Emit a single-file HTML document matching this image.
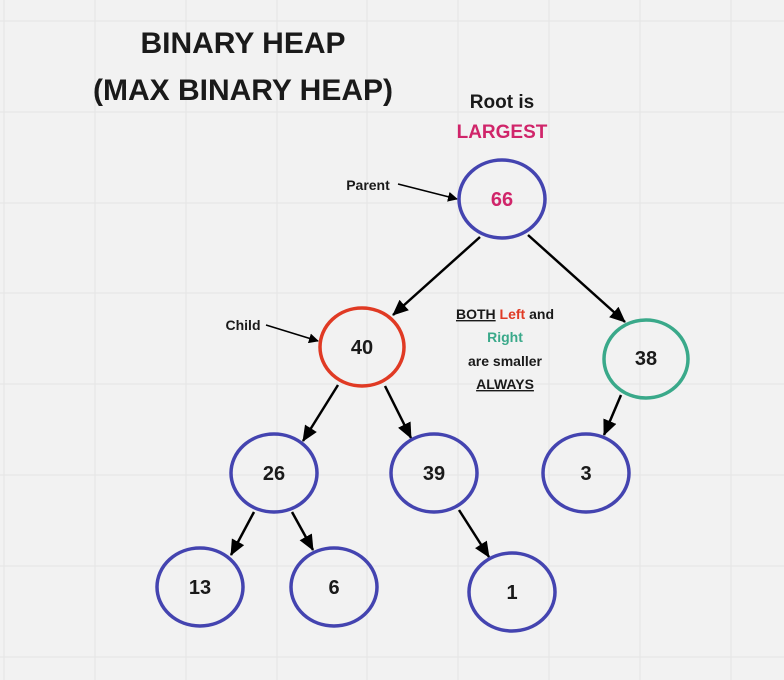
<!DOCTYPE html>
<html><head><style>
body{margin:0;width:784px;height:680px;background:#f2f2f2;overflow:hidden}
svg{display:block}
text{font-family:"Liberation Sans",sans-serif;font-weight:bold}
</style></head><body>
<svg width="784" height="680" viewBox="0 0 784 680">
<defs>
<marker id="a" markerWidth="10" markerHeight="10" refX="9" refY="5" orient="auto" markerUnits="userSpaceOnUse" viewBox="0 0 10 10">
<path d="M0,0 L10,5 L0,10 z" fill="#000"/></marker>
<marker id="b" markerWidth="16" markerHeight="14" refX="15" refY="7" orient="auto" markerUnits="userSpaceOnUse" viewBox="0 0 16 14">
<path d="M0,0 L16,7 L0,14 z" fill="#000"/></marker>
</defs>
<g stroke="#e4e4e4" stroke-width="1">
<line x1="4" y1="0" x2="4" y2="680"/><line x1="95" y1="0" x2="95" y2="680"/><line x1="186" y1="0" x2="186" y2="680"/><line x1="277" y1="0" x2="277" y2="680"/><line x1="367" y1="0" x2="367" y2="680"/><line x1="458" y1="0" x2="458" y2="680"/><line x1="549" y1="0" x2="549" y2="680"/><line x1="640" y1="0" x2="640" y2="680"/><line x1="731" y1="0" x2="731" y2="680"/>
<line x1="0" y1="21" x2="784" y2="21"/><line x1="0" y1="112" x2="784" y2="112"/><line x1="0" y1="203" x2="784" y2="203"/><line x1="0" y1="293" x2="784" y2="293"/><line x1="0" y1="384" x2="784" y2="384"/><line x1="0" y1="475" x2="784" y2="475"/><line x1="0" y1="566" x2="784" y2="566"/><line x1="0" y1="657" x2="784" y2="657"/>
</g>
<text x="243" y="53" font-size="30" fill="#1a1a1a" text-anchor="middle">BINARY HEAP</text>
<text x="243" y="100" font-size="30" fill="#1a1a1a" text-anchor="middle">(MAX BINARY HEAP)</text>
<text x="502" y="108" font-size="19" fill="#1a1a1a" text-anchor="middle">Root is</text>
<text x="502" y="138" font-size="19" fill="#d0256a" text-anchor="middle">LARGEST</text>
<g stroke="#000" stroke-width="2.5" fill="none">
<line x1="398" y1="184" x2="457" y2="199" stroke-width="1.5" marker-end="url(#a)"/>
<line x1="266" y1="325" x2="318" y2="341" stroke-width="1.5" marker-end="url(#a)"/>
<line x1="480" y1="237" x2="393" y2="315" marker-end="url(#b)"/>
<line x1="528" y1="235" x2="625" y2="322" marker-end="url(#b)"/>
<line x1="338" y1="385" x2="303" y2="441" marker-end="url(#b)"/>
<line x1="385" y1="386" x2="411" y2="438" marker-end="url(#b)"/>
<line x1="621" y1="395" x2="604" y2="435" marker-end="url(#b)"/>
<line x1="254" y1="512" x2="231" y2="555" marker-end="url(#b)"/>
<line x1="292" y1="512" x2="313" y2="550" marker-end="url(#b)"/>
<line x1="459" y1="510" x2="489" y2="557" marker-end="url(#b)"/>
</g>
<text x="368" y="190" font-size="14" fill="#1a1a1a" text-anchor="middle">Parent</text>
<text x="243" y="330" font-size="14" fill="#1a1a1a" text-anchor="middle">Child</text>
<g fill="none" stroke-width="3.5">
<ellipse cx="502" cy="199" rx="43" ry="39" stroke="#4444b0"/>
<ellipse cx="362" cy="347" rx="42" ry="39" stroke="#e03a24"/>
<ellipse cx="646" cy="359" rx="42" ry="39" stroke="#3aa98a"/>
<ellipse cx="274" cy="473" rx="43" ry="39" stroke="#4444b0"/>
<ellipse cx="434" cy="473" rx="43" ry="39" stroke="#4444b0"/>
<ellipse cx="586" cy="473" rx="43" ry="39" stroke="#4444b0"/>
<ellipse cx="200" cy="587" rx="43" ry="39" stroke="#4444b0"/>
<ellipse cx="334" cy="587" rx="43" ry="39" stroke="#4444b0"/>
<ellipse cx="512" cy="592" rx="43" ry="39" stroke="#4444b0"/>
</g>
<g font-size="20" text-anchor="middle" fill="#1a1a1a">
<text x="502" y="206" fill="#d0256a">66</text>
<text x="362" y="354">40</text>
<text x="646" y="365">38</text>
<text x="274" y="480">26</text>
<text x="434" y="480">39</text>
<text x="586" y="480">3</text>
<text x="200" y="594">13</text>
<text x="334" y="594">6</text>
<text x="512" y="599">1</text>
</g>
<g font-size="14" text-anchor="middle" fill="#1a1a1a">
<text x="505" y="319"><tspan text-decoration="underline">BOTH</tspan> <tspan fill="#e03a24">Left</tspan> and</text>
<text x="505" y="342" fill="#3aa98a">Right</text>
<text x="505" y="366">are smaller</text>
<text x="505" y="389" text-decoration="underline">ALWAYS</text>
</g>
</svg>
</body></html>
